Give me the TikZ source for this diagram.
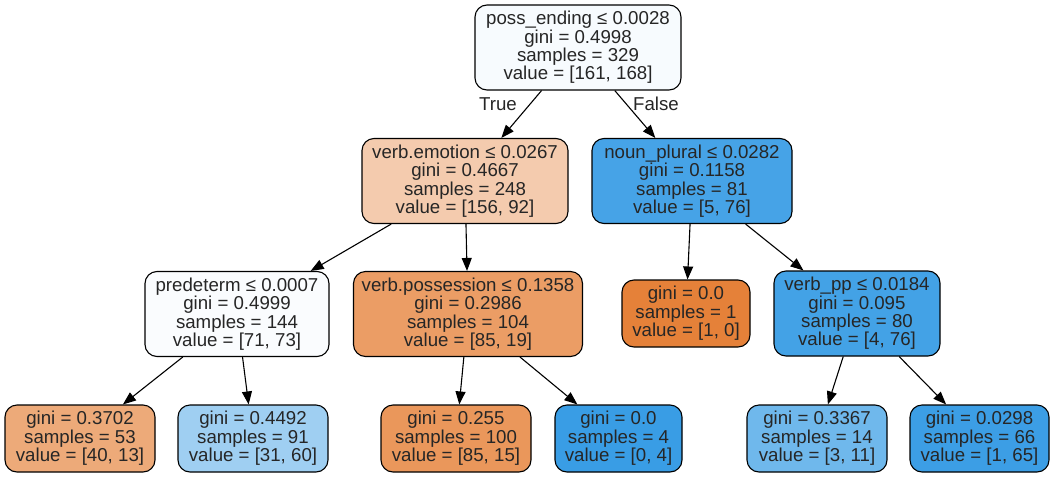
\documentclass[tikz,border=0pt]{standalone}
\usepackage{fontspec}
\setmainfont{Liberation Sans}
\usetikzlibrary{arrows.meta}
\definecolor{c0}{RGB}{247,251,254}
\definecolor{c1}{RGB}{244,203,174}
\definecolor{c2}{RGB}{70,163,231}
\definecolor{c3}{RGB}{250,252,254}
\definecolor{c4}{RGB}{235,157,101}
\definecolor{c5}{RGB}{229,129,57}
\definecolor{c6}{RGB}{67,162,230}
\definecolor{c7}{RGB}{237,170,121}
\definecolor{c8}{RGB}{159,207,242}
\definecolor{c9}{RGB}{234,151,91}
\definecolor{c10}{RGB}{57,157,229}
\definecolor{c11}{RGB}{111,184,236}
\definecolor{c12}{RGB}{60,158,229}
\tikzset{
  tnode/.style={draw=black, line width=1.1pt, rounded corners=12pt, inner sep=0pt,
    align=center, font=\fontsize{18.67}{18.4}\selectfont, text=black!85},
  inner4/.style={tnode, minimum height=85pt},
  leaf3/.style={tnode, minimum height=67pt},
  edge/.style={line width=1.1pt, -{Triangle[length=13pt,width=10pt]}},
  elabel/.style={font=\fontsize{18.67}{20}\selectfont, text=black!85}
}
\begin{document}
\begin{tikzpicture}[x=1pt,y=-1pt]
\useasboundingbox (0,0) rectangle (1055,477);
\node[inner4, fill=c0, minimum width=206pt] (root) at (578,47.5) {poss\_ending ≤ 0.0028\\gini = 0.4998\\samples = 329\\value = [161, 168]};
\node[inner4, fill=c1, minimum width=206pt] (n1) at (465,181) {verb.emotion ≤ 0.0267\\gini = 0.4667\\samples = 248\\value = [156, 92]};
\node[inner4, fill=c2, minimum width=200pt] (n2) at (692,181) {noun\_plural ≤ 0.0282\\gini = 0.1158\\samples = 81\\value = [5, 76]};
\node[inner4, fill=c3, minimum width=184pt] (n3) at (237,314) {predeterm ≤ 0.0007\\gini = 0.4999\\samples = 144\\value = [71, 73]};
\node[inner4, fill=c4, minimum width=229pt] (n4) at (468,314) {verb.possession ≤ 0.1358\\gini = 0.2986\\samples = 104\\value = [85, 19]};
\node[leaf3, fill=c5, minimum width=128pt] (n5) at (686,313.5) {gini = 0.0\\samples = 1\\value = [1, 0]};
\node[inner4, fill=c6, minimum width=166pt] (n6) at (857,313.5) {verb\_pp ≤ 0.0184\\gini = 0.095\\samples = 80\\value = [4, 76]};
\node[leaf3, fill=c7, minimum width=150pt] (n7) at (80,438.5) {gini = 0.3702\\samples = 53\\value = [40, 13]};
\node[leaf3, fill=c8, minimum width=150pt] (n8) at (253,438.5) {gini = 0.4492\\samples = 91\\value = [31, 60]};
\node[leaf3, fill=c9, minimum width=150pt] (n9) at (456,438.5) {gini = 0.255\\samples = 100\\value = [85, 15]};
\node[leaf3, fill=c10, minimum width=127pt] (n10) at (618.5,438.5) {gini = 0.0\\samples = 4\\value = [0, 4]};
\node[leaf3, fill=c11, minimum width=140pt] (n11) at (817,438.5) {gini = 0.3367\\samples = 14\\value = [3, 11]};
\node[leaf3, fill=c12, minimum width=139pt] (n12) at (979.5,438.5) {gini = 0.0298\\samples = 66\\value = [1, 65]};
\draw[edge] (root) -- (n1);
\draw[edge] (root) -- (n2);
\draw[edge] (n1) -- (n3);
\draw[edge] (n1) -- (n4);
\draw[edge] (n2) -- (n5);
\draw[edge] (n2) -- (n6);
\draw[edge] (n3) -- (n7);
\draw[edge] (n3) -- (n8);
\draw[edge] (n4) -- (n9);
\draw[edge] (n4) -- (n10);
\draw[edge] (n6) -- (n11);
\draw[edge] (n6) -- (n12);
\node[elabel] (ltrue) at (498,104) {True};
\node[elabel] (lfalse) at (656,104) {False};
\end{tikzpicture}
\end{document}
